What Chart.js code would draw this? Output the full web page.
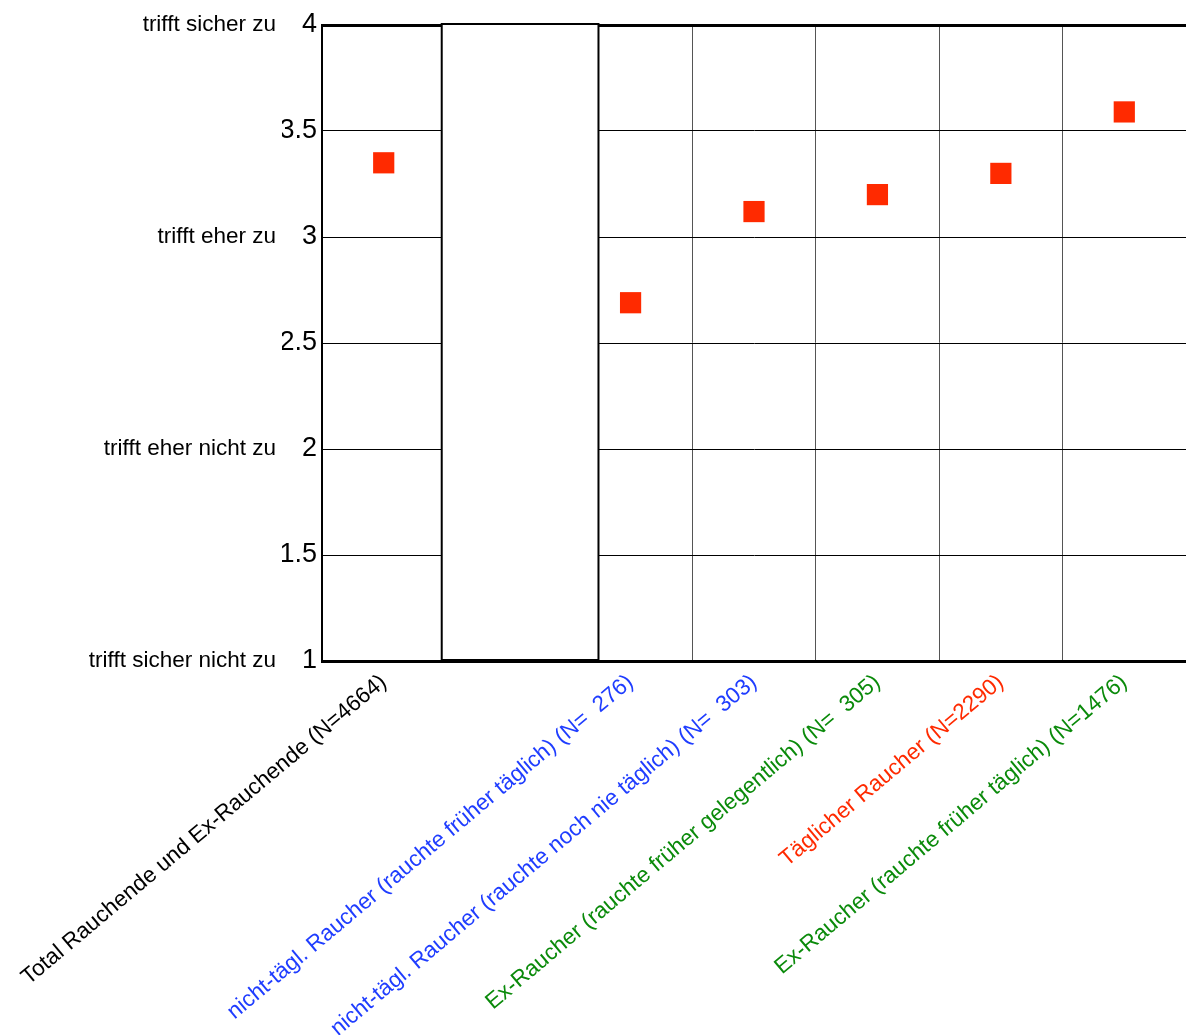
<!DOCTYPE html>
<html>
<head>
<meta charset="utf-8">
<script src="https://cdn.jsdelivr.net/npm/chart.js@4/dist/chart.umd.min.js"></script>
<style>
  html, body { margin: 0; padding: 0; background: #fff; overflow: hidden; }
  #wrap { width: 1186px; height: 1035px; position: relative; }
</style>
</head>
<body>
<div id="wrap"><canvas id="c" width="1186" height="1035"></canvas></div>
<script>
// ---- data ----
const categories = [
  "Total Rauchende und Ex-Rauchende (N=4664)",
  "",
  "nicht-tägl. Raucher (rauchte früher täglich) (N=  276)",
  "nicht-tägl. Raucher (rauchte noch nie täglich) (N=  303)",
  "Ex-Raucher (rauchte früher gelegentlich) (N=  305)",
  "Täglicher Raucher (N=2290)",
  "Ex-Raucher (rauchte früher täglich) (N=1476)"
];
const categoryColors = ["#000000", "#000000", "#1f3dff", "#1f3dff", "#0a8a0a", "#ff2a00", "#0a8a0a"];
const meanValues = [3.35, null, 2.69, 3.12, 3.20, 3.30, 3.59];
const yTickValues = [1, 1.5, 2, 2.5, 3, 3.5, 4];
const yTextLabels = { 1: "trifft sicher nicht zu", 2: "trifft eher nicht zu", 3: "trifft eher zu", 4: "trifft sicher zu" };

const FONT = "'Liberation Sans', Arial, Helvetica, sans-serif";

// white separator box drawn over the empty category (in category units)
const boxPlugin = {
  id: 'sepBox',
  beforeDatasetsDraw(chart) {
    const x = chart.scales.x, y = chart.scales.y, ctx = chart.ctx;
    const l = x.getPixelForValue(0.47), r = x.getPixelForValue(1.74);
    const t = y.getPixelForValue(4) - 1, b = y.getPixelForValue(1) - 1;
    ctx.save();
    ctx.fillStyle = '#ffffff';
    ctx.fillRect(l, t, r - l, b - t);
    ctx.strokeStyle = '#000000';
    ctx.lineWidth = 2;
    ctx.strokeRect(l, t, r - l, b - t);
    ctx.restore();
  }
};

new Chart(document.getElementById('c'), {
  type: 'line',
  data: {
    labels: categories,
    datasets: [{
      data: meanValues,
      showLine: false,
      pointStyle: 'rect',
      pointRadius: 15,
      pointHoverRadius: 15,
      pointBorderWidth: 0,
      pointBackgroundColor: '#ff2a00',
      pointBorderColor: '#ff2a00'
    }]
  },
  options: {
    responsive: false,
    animation: false,
    events: [],
    layout: { autoPadding: false, padding: { top: 25, left: 0, right: 0, bottom: 0 } },
    plugins: { legend: { display: false }, tooltip: { enabled: false } },
    scales: {
      x: {
        type: 'category',
        offset: true,
        grid: { offset: true, color: '#555555', lineWidth: 1, drawTicks: false },
        border: { display: true, color: '#000000', width: 3 },
        ticks: {
          minRotation: 40, maxRotation: 40, autoSkip: false,
          padding: 8, labelOffset: 0,
          font: { family: FONT, size: 22.5 },
          color: (c) => categoryColors[c.index]
        },
        afterFit(s) { s.height = 1035 - 25 - 636; s.paddingLeft = 0; s.paddingRight = 0; }
      },
      y: {
        type: 'linear', position: 'left', min: 1, max: 4, weight: 0,
        afterBuildTicks(s) { s.ticks = yTickValues.map(v => ({ value: v })); },
        grid: {
          color: '#000000',
          lineWidth: (c) => (c.tick && c.tick.value === 4 ? 3 : 1),
          drawTicks: false
        },
        border: { display: true, color: '#000000', width: 2 },
        ticks: { padding: 5, font: { family: FONT, size: 27 }, color: '#000000', callback: (v) => String(v) },
        afterFit(s) { s.width = 40; }
      },
      yText: {
        type: 'linear', position: 'left', min: 1, max: 4, weight: 1,
        afterBuildTicks(s) { s.ticks = Object.keys(yTextLabels).map(k => ({ value: Number(k) })); },
        grid: { display: false, drawTicks: false },
        border: { display: false },
        ticks: { padding: 6, font: { family: FONT, size: 22.5 }, color: '#000000', callback: (v) => yTextLabels[v] || '' },
        afterFit(s) { s.width = 282; }
      }
    }
  },
  plugins: [boxPlugin]
});
</script>
</body>
</html>
